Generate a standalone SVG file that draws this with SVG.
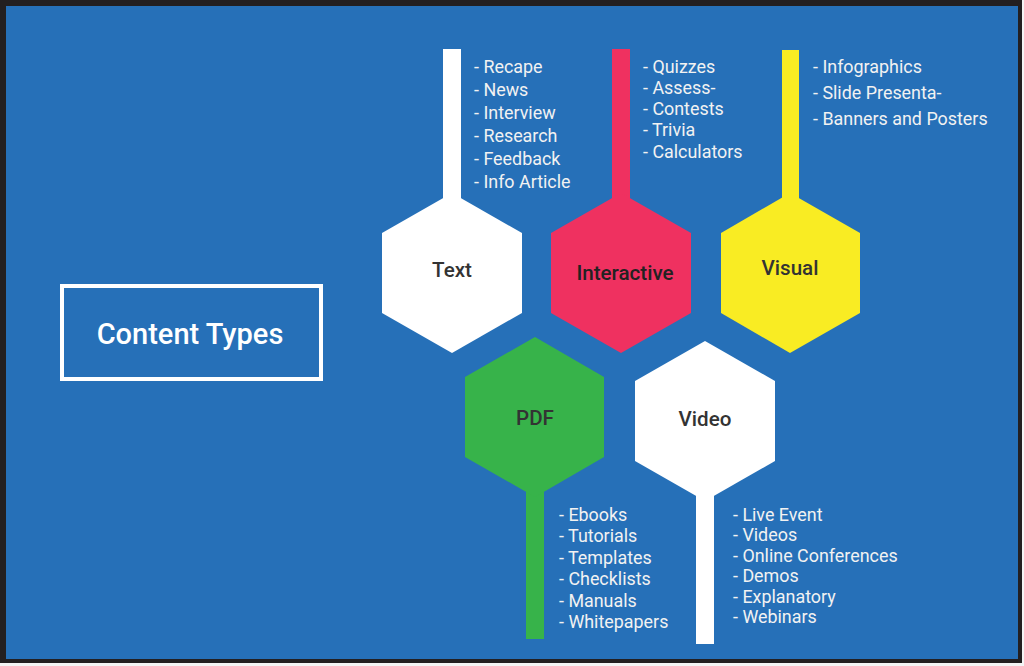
<svg xmlns="http://www.w3.org/2000/svg" width="1024" height="666" viewBox="0 0 1024 666">
<style>
.lbl{font-family:Roboto,"Liberation Sans",sans-serif;font-weight:500;font-size:20.6px;fill:#333333;text-anchor:middle}
.lst{font-family:Roboto,"Liberation Sans",sans-serif;font-size:17.9px;fill:#F2F2F2}
.title{font-family:Roboto,"Liberation Sans",sans-serif;font-weight:500;font-size:29px;fill:#FFFFFF;text-anchor:middle}
</style>
<rect x="0" y="0" width="1024" height="666" fill="#F4F4F4"/>
<rect x="0" y="0" width="1022" height="663" fill="#231F20"/>
<rect x="6" y="6" width="1012" height="653" fill="#2670B8"/>
<g id="title">
<rect x="62" y="286" width="259" height="93" fill="none" stroke="#FFFFFF" stroke-width="4"/>
<text class="title" x="190" y="344">Content Types</text>
</g>
<g id="connectors">
<rect x="443" y="49" width="18" height="160" fill="#FFFFFF"/>
<rect x="612" y="49" width="18" height="160" fill="#EF3160"/>
<rect x="782" y="50" width="17" height="160" fill="#F9EC23"/>
<rect x="526" y="480" width="18" height="159" fill="#37B34A"/>
<rect x="696" y="480" width="18" height="164" fill="#FFFFFF"/>
</g>
<g id="text">
<polygon points="452,193 522,233 522,313 452,353 382,313 382,233" fill="#FFFFFF"/>
<text class="lbl" x="452" y="277">Text</text>
<text class="lst" x="474" y="73">- Recape</text>
<text class="lst" x="474" y="96">- News</text>
<text class="lst" x="474" y="119">- Interview</text>
<text class="lst" x="474" y="142">- Research</text>
<text class="lst" x="474" y="165">- Feedback</text>
<text class="lst" x="474" y="188">- Info Article</text>
</g>
<g id="interactive">
<polygon points="621,193 691,233 691,313 621,353 551,313 551,233" fill="#EF3160"/>
<text class="lbl" x="625" y="280" style="fill:#222222">Interactive</text>
<text class="lst" x="643" y="73">- Quizzes</text>
<text class="lst" x="643" y="94">- Assess-</text>
<text class="lst" x="643" y="115">- Contests</text>
<text class="lst" x="643" y="136">- Trivia</text>
<text class="lst" x="643" y="158">- Calculators</text>
</g>
<g id="visual">
<polygon points="790,193 860,233 860,313 790,353 721,313 721,233" fill="#F9EC23"/>
<text class="lbl" x="790" y="275">Visual</text>
<text class="lst" x="813" y="73">- Infographics</text>
<text class="lst" x="813" y="99">- Slide Presenta-</text>
<text class="lst" x="813" y="125">- Banners and Posters</text>
</g>
<g id="pdf">
<polygon points="535,337 604,377 604,457 535,497 465,457 465,377" fill="#37B34A"/>
<text class="lbl" x="535" y="425">PDF</text>
<text class="lst" x="559" y="521">- Ebooks</text>
<text class="lst" x="559" y="542">- Tutorials</text>
<text class="lst" x="559" y="564">- Templates</text>
<text class="lst" x="559" y="585">- Checklists</text>
<text class="lst" x="559" y="607">- Manuals</text>
<text class="lst" x="559" y="628">- Whitepapers</text>
</g>
<g id="video">
<polygon points="705,341 775,381 775,461 705,501 635,461 635,381" fill="#FFFFFF"/>
<text class="lbl" x="705" y="426">Video</text>
<text class="lst" x="733" y="521">- Live Event</text>
<text class="lst" x="733" y="541">- Videos</text>
<text class="lst" x="733" y="562">- Online Conferences</text>
<text class="lst" x="733" y="582">- Demos</text>
<text class="lst" x="733" y="603">- Explanatory</text>
<text class="lst" x="733" y="623">- Webinars</text>
</g>
</svg>
